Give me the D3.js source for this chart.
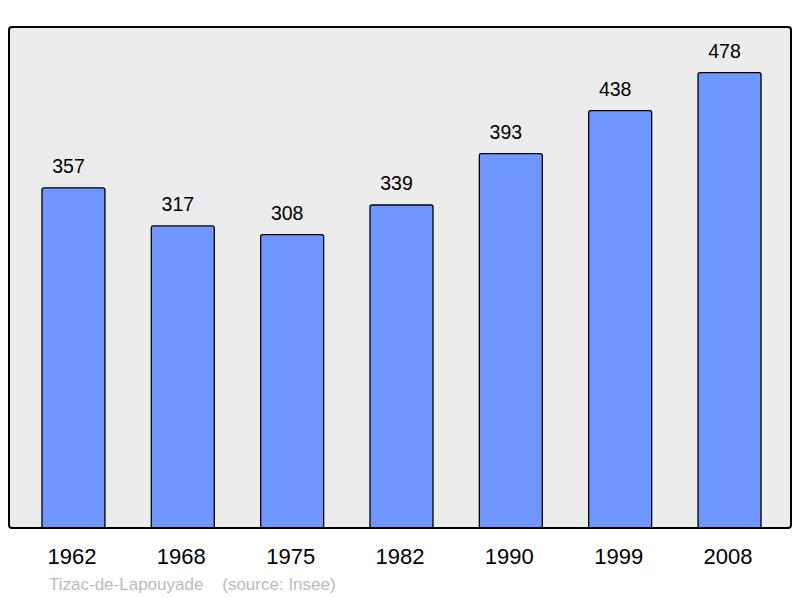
<!DOCTYPE html>
<html>
<head>
<meta charset="utf-8">
<script src="https://cdn.jsdelivr.net/npm/d3@7"></script>
<style>
  body { margin: 0; background: #fff; }
  svg { display: block; font-family: "Liberation Sans", Arial, sans-serif; }
</style>
</head>
<body>
<div id="chart"></div>
<script>
var years = ['1962', '1968', '1975', '1982', '1990', '1999', '2008'];
var population = [357, 317, 308, 339, 393, 438, 478];
var place = 'Tizac-de-Lapouyade';
var source = '(source: Insee)';

var width = 800, height = 598;
var frame = { left: 9, top: 27, right: 791, bottom: 528 };

var svg = d3.select('#chart').append('svg')
    .attr('width', width)
    .attr('height', height);

// plot background
svg.append('rect')
    .attr('x', frame.left)
    .attr('y', frame.top)
    .attr('width', frame.right - frame.left)
    .attr('height', frame.bottom - frame.top)
    .attr('rx', 3)
    .attr('fill', '#ececec');

var xScale = d3.scaleBand()
    .domain(years)
    .range([18.8, 784.2])
    .paddingInner(0.424)
    .paddingOuter(0.212);

var yScale = d3.scaleLinear()
    .domain([0, 478 * 1.1])
    .range([frame.bottom, frame.top]);

var data = years.map(function (y, i) { return { year: y, value: population[i] }; });

svg.selectAll('rect.bar')
    .data(data).enter()
    .append('rect')
    .attr('class', 'bar')
    .attr('x', function (d) { return xScale(d.year); })
    .attr('y', function (d) { return yScale(d.value); })
    .attr('width', xScale.bandwidth())
    .attr('height', function (d) { return frame.bottom - yScale(d.value); })
    .attr('rx', 2)
    .attr('fill', '#7097ff')
    .attr('stroke', '#000')
    .attr('stroke-width', 1.3);

// value labels (sit slightly left of the bar centre, as in the original)
svg.selectAll('text.val')
    .data(data).enter()
    .append('text')
    .attr('class', 'val')
    .attr('x', function (d) { return xScale(d.year) + xScale.bandwidth() / 2 - 5; })
    .attr('y', function (d) { return yScale(d.value) - 15; })
    .attr('text-anchor', 'middle')
    .attr('font-size', 19.5)
    .attr('fill', '#000')
    .text(function (d) { return d.value; });

// frame border on top of bars
svg.append('rect')
    .attr('x', frame.left)
    .attr('y', frame.top)
    .attr('width', frame.right - frame.left)
    .attr('height', frame.bottom - frame.top)
    .attr('rx', 3)
    .attr('fill', 'none')
    .attr('stroke', '#000')
    .attr('stroke-width', 2);

// year axis
var xAxis = d3.axisBottom(xScale).tickSize(0).tickPadding(0);
var gx = svg.append('g')
    .attr('transform', 'translate(0,' + frame.bottom + ')')
    .call(xAxis);
gx.select('.domain').remove();
gx.selectAll('text')
    .attr('font-size', 22)
    .attr('font-family', '"Liberation Sans", Arial, sans-serif')
    .attr('fill', '#000')
    .attr('dy', null)
    .attr('x', -1.5)
    .attr('y', 36);

svg.append('text')
    .attr('x', 49)
    .attr('y', 590)
    .attr('font-size', 17)
    .attr('fill', '#bbbbbb')
    .attr('xml:space', 'preserve')
    .text(place + '    ' + source);
</script>
</body>
</html>
